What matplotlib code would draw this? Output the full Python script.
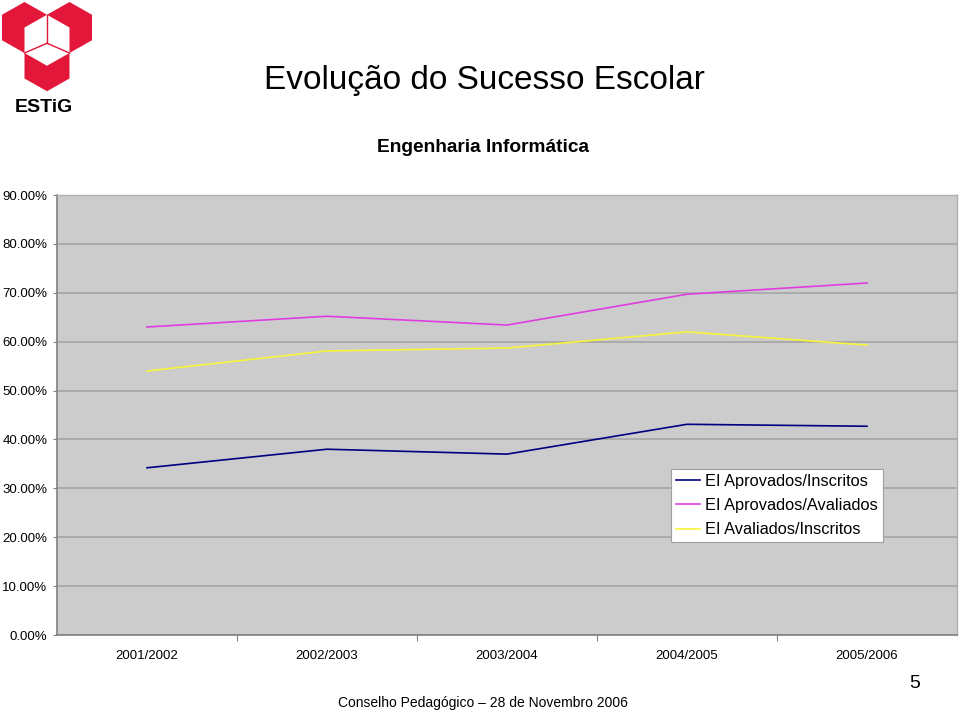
import numpy as np
import matplotlib.pyplot as plt
from matplotlib.patches import Polygon
from matplotlib.ticker import FixedLocator, FuncFormatter

plt.rcParams['font.family'] = ['Liberation Sans', 'DejaVu Sans']

anos = ['2001/2002', '2002/2003', '2003/2004', '2004/2005', '2005/2006']
aprov_inscritos = [34.2, 38.0, 37.0, 43.1, 42.7]
aprov_avaliados = [63.0, 65.2, 63.4, 69.7, 72.0]
aval_inscritos = [54.0, 58.1, 58.7, 62.0, 59.3]

nomes = ['EI Aprovados/Inscritos', 'EI Aprovados/Avaliados', 'EI Avaliados/Inscritos']
cores = ['#000080', '#E03CE0', '#F5F53C']

fig = plt.figure(figsize=(9.6, 7.11), dpi=100)

# fundo em coordenadas de pixel para logotipo e textos
bg = fig.add_axes([0, 0, 1, 1])
bg.set_xlim(0, 960)
bg.set_ylim(711, 0)
bg.axis('off')


def hexagono(cx, cy, s, w):
    ang = np.deg2rad(np.arange(6) * 60 + 90)
    return np.column_stack([cx + w / np.sqrt(3) * np.cos(ang), cy - s * np.sin(ang)])


s = 25.5
w = 45.0
cx, cy = 47, 27.5 + s / 2
vermelho = '#E3173A'
for dx, dy in [(-w / 2, -s / 2), (w / 2, -s / 2), (0, s)]:
    bg.add_patch(Polygon(hexagono(cx + dx, cy + dy, s, w), closed=True,
                         facecolor=vermelho, edgecolor='none'))
bg.add_patch(Polygon(hexagono(cx, cy, s, w), closed=True, facecolor='white',
                     edgecolor='none'))
ci = (cx, cy + 3)
for ang in [90, 210, 330]:
    a = np.deg2rad(ang)
    bg.plot([ci[0], cx + w / np.sqrt(3) * np.cos(a)], [ci[1], cy - s * np.sin(a)],
            color=vermelho, lw=1.0)
bg.text(44, 108, 'ESTiG', fontsize=14, fontweight='bold', ha='center',
        va='center')

bg.text(484, 80, 'Evolução do Sucesso Escolar', fontsize=24, ha='center',
        va='center')
bg.text(483, 148, 'Engenharia Informática', fontsize=13.8, fontweight='bold',
        ha='center', va='center')
bg.text(483, 703, 'Conselho Pedagógico – 28 de Novembro 2006', fontsize=10,
        ha='center', va='center')
bg.text(915, 683, '5', fontsize=14, ha='center', va='center')

ax = fig.add_axes([57 / 960, 76 / 711, 900 / 960, 440 / 711])
ax.set_facecolor('#CCCCCC')

x = np.arange(len(anos))
for serie, nome, cor in zip([aprov_inscritos, aprov_avaliados, aval_inscritos], nomes, cores):
    ax.plot(x, serie, color=cor, lw=1.2, label=nome)

ax.set_xlim(-0.5, len(anos) - 0.5)
ax.set_ylim(0, 90)
ax.set_yticks(np.arange(0, 91, 10))
ax.yaxis.set_major_formatter(FuncFormatter(lambda v, p: f'{v:.2f}%'))
ax.yaxis.grid(True, color='#A5A5A5', lw=1.2)
ax.set_axisbelow(True)
ax.tick_params(axis='y', length=3, width=0.8, color='#808080', pad=4,
               labelsize=9.5)

ax.set_xticks(x)
ax.set_xticklabels(anos)
ax.xaxis.set_minor_locator(FixedLocator(np.arange(0.5, len(anos) - 1, 1)))
ax.tick_params(axis='x', which='major', length=0, pad=10.5, labelsize=9.5)
ax.tick_params(axis='x', which='minor', length=4, width=0.8, color='#808080')

for lado in ['left', 'bottom']:
    ax.spines[lado].set_color('#808080')
    ax.spines[lado].set_linewidth(1.2)
for lado in ['top', 'right']:
    ax.spines[lado].set_color('#B0B0B0')
    ax.spines[lado].set_linewidth(1.0)

leg = ax.legend(loc='lower left', bbox_to_anchor=(0.682, 0.211),
                borderaxespad=0, fontsize=11.8, handlelength=1.5,
                handletextpad=0.3, labelspacing=0.57, borderpad=0.3,
                fancybox=False, framealpha=1)
leg.get_frame().set_edgecolor('#A0A0A0')
leg.get_frame().set_linewidth(0.8)

fig.savefig('out.png', dpi=100)
